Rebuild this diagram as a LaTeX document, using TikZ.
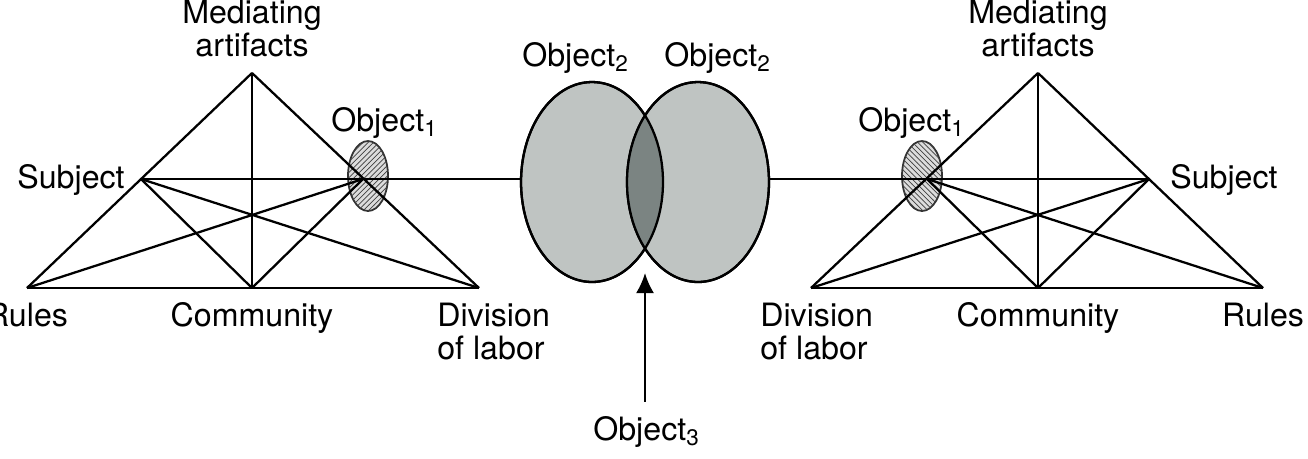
\documentclass[tikz,border=0pt]{standalone}
\usepackage{fontspec}
\setmainfont{TeX Gyre Heros}
\usetikzlibrary{shapes.geometric, arrows.meta, patterns}
\definecolor{objgray}{HTML}{BFC4C2}
\definecolor{objdark}{HTML}{7B8482}
\definecolor{hatchbg}{HTML}{DCDCDC}

\begin{document}
\begin{tikzpicture}[x=0.02cm, y=-0.02cm,
    edge/.style={line width=1.3pt},
    lbl/.style={font=\fontsize{18.3}{18.5}\selectfont, inner sep=0pt},
    bigobj/.style={ellipse, draw, line width=1.3pt, fill=objgray, minimum width=2.84cm, minimum height=4cm, inner sep=0pt},
    smallobj/.style={ellipse, draw=black!80, line width=1pt, fill=hatchbg, minimum width=0.8cm, minimum height=1.4cm, inner sep=0pt},
]
    \useasboundingbox (0,0) rectangle (1308,458);
    % Left activity system
    \coordinate (lM) at (252,73);
    \coordinate (lS) at (141,179);
    \coordinate (lO) at (363,179);
    \coordinate (lR) at (27,288);
    \coordinate (lC) at (252,288);
    \coordinate (lD) at (479,288);
    \node[smallobj, postaction={pattern=north east lines, pattern color=black!75}] (lObj) at (368,176) {};
    % Right activity system
    \coordinate (rM) at (1038,73);
    \coordinate (rS) at (1149,179);
    \coordinate (rO) at (927,179);
    \coordinate (rR) at (1263,288);
    \coordinate (rC) at (1038,288);
    \coordinate (rD) at (811,288);
    \node[smallobj, postaction={pattern=north west lines, pattern color=black!75}] (rObj) at (922,176) {};
    % Triangle edges
    \foreach \a/\b in {M/R, M/D, R/D, M/C, S/C, S/D, O/C, O/R} {
        \draw[edge] (l\a) -- (l\b);
        \draw[edge] (r\a) -- (r\b);
    }
    % Object2 and shared Object3
    \node[bigobj] (objL) at (592,182) {};
    \node[bigobj] (objR) at (698,182) {};
    \begin{scope}
        \clip (objL.center) ellipse [x radius=1.42cm, y radius=2cm];
        \fill[objdark] (objR.center) ellipse [x radius=1.42cm, y radius=2cm];
    \end{scope}
    \draw[line width=1.3pt] (objL.center) ellipse [x radius=1.42cm, y radius=2cm]
        (objR.center) ellipse [x radius=1.42cm, y radius=2cm];
    \draw[edge] (lS) -- (objL.west |- lS);
    \draw[edge] (objR.east |- rS) -- (rS);
    \coordinate (o3tip) at (645,273);
    \node[lbl, anchor=base west, inner ysep=0.28cm] (obj3) at (593,440) {Object\textsubscript{3}};
    \draw[edge, -{Latex[length=0.4cm, width=0.36cm]}] (obj3.north -| o3tip) -- (o3tip);
    % Labels
    \node[lbl, align=center, anchor=base] (lMlab) at (252,56) {Mediating\\artifacts};
    \node[lbl, align=center, anchor=base] (rMlab) at (1038,56) {Mediating\\artifacts};
    \node[lbl, anchor=base east] (lSlab) at (125,188) {Subject};
    \node[lbl, anchor=base west] (rSlab) at (1170,188) {Subject};
    \node[lbl, anchor=base] (lRlab) at (27,326) {Rules};
    \node[lbl, anchor=base] (rRlab) at (1263,326) {Rules};
    \node[lbl, anchor=base] (lClab) at (252,326) {Community};
    \node[lbl, anchor=base] (rClab) at (1038,326) {Community};
    \node[lbl, align=left, anchor=base west] (lDlab) at (437,359) {Division\\of labor};
    \node[lbl, align=left, anchor=base west] (rDlab) at (760,359) {Division\\of labor};
    \node[lbl, anchor=base west] (lOlab) at (331,131) {Object\textsubscript{1}};
    \node[lbl, anchor=base west] (rOlab) at (858,131) {Object\textsubscript{1}};
    \node[lbl, anchor=base west] (o2llab) at (522,66) {Object\textsubscript{2}};
    \node[lbl, anchor=base west] (o2rlab) at (664,66) {Object\textsubscript{2}};
\end{tikzpicture}
\end{document}
